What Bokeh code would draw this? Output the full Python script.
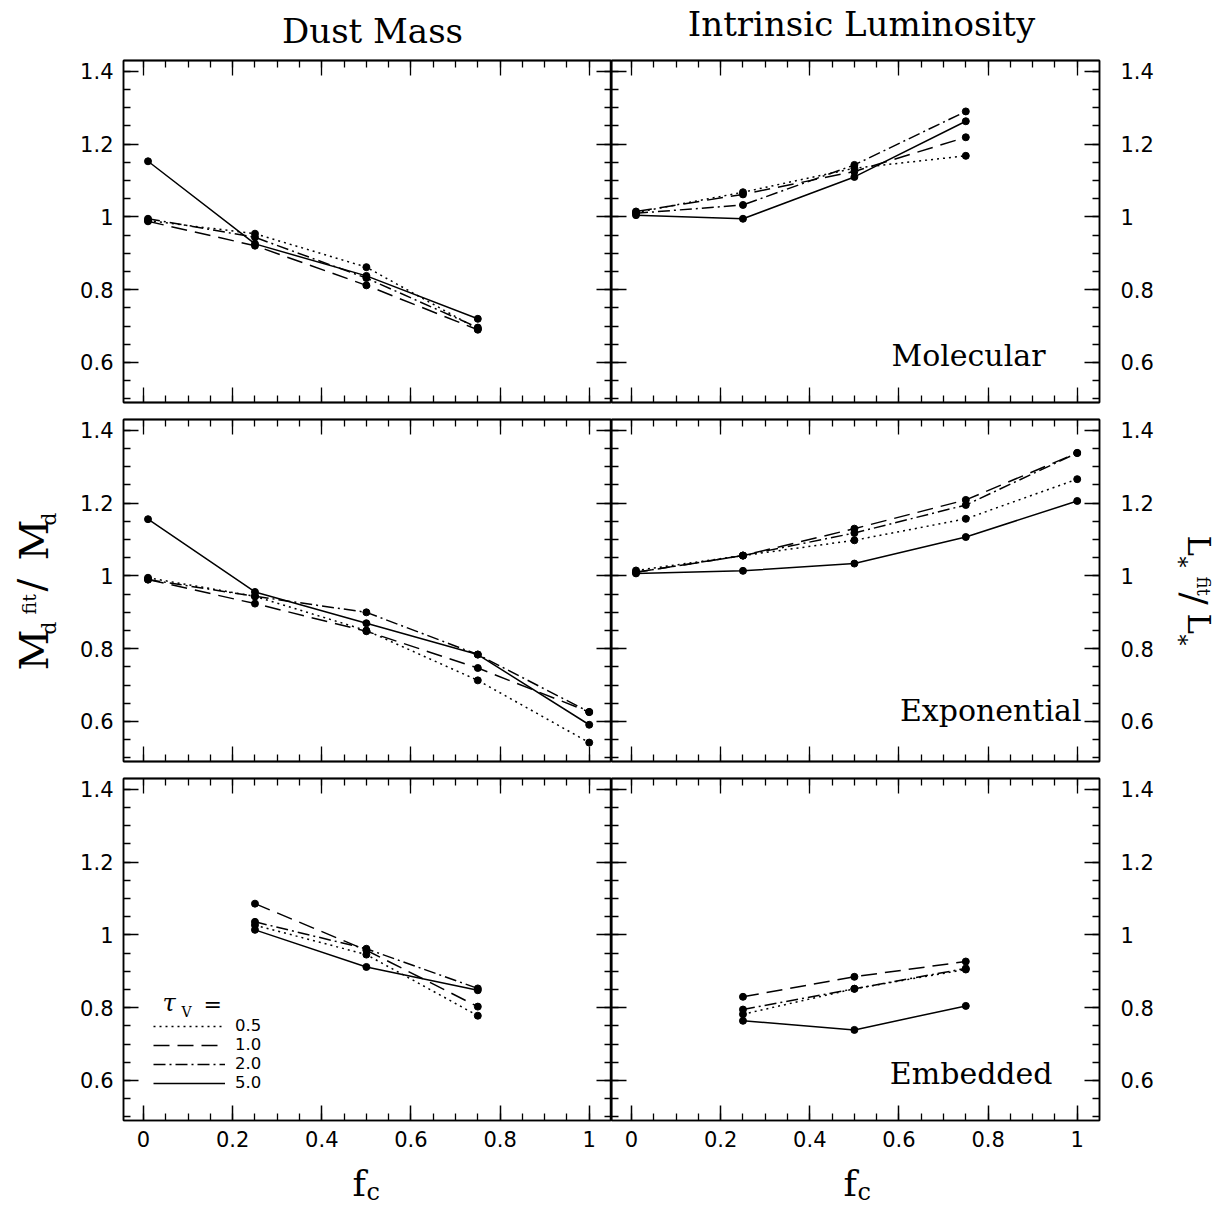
import math

from bokeh.embed import file_html
from bokeh.layouts import column, row
from bokeh.models import FixedTicker, Label, Legend, LegendItem, LinearAxis, Range1d
from bokeh.plotting import figure
from bokeh.resources import INLINE

# ---------------------------------------------------------------- data
# clump filling factor f_c sampled by each geometry
FC_MOL = [0.01, 0.25, 0.5, 0.75]
FC_EXP = [0.01, 0.25, 0.5, 0.75, 1.0]
FC_EMB = [0.25, 0.5, 0.75]

TAU_V = ["0.5", "1.0", "2.0", "5.0"]

# Molecular geometry: fitted / true dust mass and luminosity
MOL_MD_05 = [0.990, 0.954, 0.862, 0.692]
MOL_MD_10 = [0.988, 0.921, 0.812, 0.690]
MOL_MD_20 = [0.995, 0.944, 0.832, 0.696]
MOL_MD_50 = [1.153, 0.926, 0.838, 0.720]
MOL_LS_05 = [1.012, 1.068, 1.134, 1.168]
MOL_LS_10 = [1.015, 1.062, 1.125, 1.219]
MOL_LS_20 = [1.010, 1.033, 1.143, 1.290]
MOL_LS_50 = [1.005, 0.995, 1.110, 1.263]

# Exponential geometry
EXP_MD_05 = [0.995, 0.944, 0.850, 0.713, 0.542]
EXP_MD_10 = [0.990, 0.924, 0.848, 0.747, 0.626]
EXP_MD_20 = [0.990, 0.944, 0.900, 0.784, 0.626]
EXP_MD_50 = [1.156, 0.956, 0.870, 0.784, 0.591]
EXP_LS_05 = [1.015, 1.056, 1.098, 1.157, 1.266]
EXP_LS_10 = [1.010, 1.056, 1.130, 1.209, 1.338]
EXP_LS_20 = [1.010, 1.056, 1.118, 1.195, 1.338]
EXP_LS_50 = [1.007, 1.014, 1.034, 1.107, 1.206]

# Embedded geometry
EMB_MD_05 = [1.027, 0.946, 0.778]
EMB_MD_10 = [1.086, 0.958, 0.803]
EMB_MD_20 = [1.036, 0.962, 0.853]
EMB_MD_50 = [1.014, 0.912, 0.848]
EMB_LS_05 = [0.782, 0.852, 0.905]
EMB_LS_10 = [0.830, 0.885, 0.927]
EMB_LS_20 = [0.795, 0.852, 0.908]
EMB_LS_50 = [0.764, 0.739, 0.805]

GEOMETRIES = ["Molecular", "Exponential", "Embedded"]
COLUMN_TITLES = ["Dust Mass", "Intrinsic Luminosity"]

X_TICKS = [0.0, 0.2, 0.4, 0.6, 0.8, 1.0]
X_TICK_LABELS = ["0", "0.2", "0.4", "0.6", "0.8", "1"]
Y_TICKS = [0.6, 0.8, 1.0, 1.2, 1.4]
Y_TICK_LABELS = ["0.6", "0.8", "1", "1.2", "1.4"]

# ---------------------------------------------------------------- styling
DASHES = {"0.5": "2 4", "1.0": "16 8", "2.0": "12 4 2 4", "5.0": "solid"}

X_LO, X_HI = -0.045, 1.05
Y_LO, Y_HI = 0.49, 1.43
FRAME_W, FRAME_H = 488, 342

PAGE_W = 1228
TOP_H, BOTTOM_H = 52, 47          # strips holding column titles / f_c
LEFT_W, RIGHT_W = 60, 64          # strips holding the y titles
BORDERS_LR = [(63, 0), (0, 65)]   # tick-label room inside the panels
BORDERS_TB = [(8, 8), (9, 8), (9, 40)]
COL_LEFT = [123, 611]             # page x of each column's frame
ROW_TOP = [60, 419, 778]          # page y of each row's frame
GRID_H = sum(t + FRAME_H + b for t, b in BORDERS_TB)

X_MINOR = [round(0.05 * k, 2) for k in range(0, 21)]
Y_MINOR = [round(0.5 + 0.05 * k, 2) for k in range(0, 19)]

TICK_FONT = "DejaVu Sans"
SERIF = "DejaVu Serif"
MID_TO_BASE = 0.346               # em distance from a line's middle to its baseline


def style_axis(ax):
    ax.axis_line_color = "black"
    ax.axis_line_width = 1.5
    ax.major_tick_line_color = "black"
    ax.major_tick_line_width = 1.5
    ax.minor_tick_line_color = "black"
    ax.minor_tick_line_width = 1.3
    ax.major_tick_out = 0
    ax.minor_tick_out = 0
    return ax


def labelled_axis(ticks, minor, labels, standoff):
    ax = style_axis(LinearAxis(ticker=FixedTicker(ticks=ticks, minor_ticks=minor)))
    ax.major_tick_in = 15
    ax.minor_tick_in = 7
    ax.major_label_overrides = {t: lab for t, lab in zip(ticks, labels)}
    ax.major_label_text_font = TICK_FONT
    ax.major_label_text_font_size = "21px"
    ax.major_label_text_color = "black"
    ax.major_label_standoff = standoff
    return ax


def bare_axes(ticks, minor):
    # mirrored frame side: long and short inward ticks, no numbers
    long_ax = style_axis(LinearAxis(ticker=FixedTicker(ticks=[], minor_ticks=ticks)))
    long_ax.minor_tick_in = 15
    long_ax.major_label_standoff = 0
    short_ax = style_axis(LinearAxis(ticker=FixedTicker(ticks=[], minor_ticks=minor)))
    short_ax.minor_tick_in = 7
    short_ax.major_label_standoff = 0
    return [long_ax, short_ax]


def add_side(p, side, ticks, minor, labels, show, standoff):
    if show:
        p.add_layout(labelled_axis(ticks, minor, labels, standoff), side)
    else:
        for ax in bare_axes(ticks, minor):
            p.add_layout(ax, side)


def put_label(p, to_data, px, py, s, size, font=SERIF, align="left", angle=0.0,
              style="normal"):
    """Place text whose baseline starts at page pixel (px, py)."""
    shift = MID_TO_BASE * size
    cx = px - shift * math.sin(angle)
    cy = py - shift * math.cos(angle)
    x, y = to_data(cx, cy)
    p.add_layout(Label(x=x, y=y, text=s, text_font=font, text_font_size=f"{size}px",
                       text_align=align, text_baseline="middle", angle=angle,
                       text_font_style=style, text_color="black"))


def panel_coords(col, r):
    def conv(px, py):
        x = X_LO + (px - COL_LEFT[col]) * (X_HI - X_LO) / FRAME_W
        y = Y_HI - (py - ROW_TOP[r]) * (Y_HI - Y_LO) / FRAME_H
        return x, y
    return conv


def strip_coords(x0, y0):
    def conv(px, py):
        return px - x0, py - y0
    return conv


def make_panel(col, r, fc, series):
    top, bottom = BORDERS_TB[r]
    left, right = BORDERS_LR[col]
    p = figure(frame_width=FRAME_W, frame_height=FRAME_H,
               x_range=Range1d(X_LO, X_HI), y_range=Range1d(Y_LO, Y_HI),
               x_axis_location=None, y_axis_location=None,
               output_backend="svg", toolbar_location=None,
               min_border=0, min_border_left=left, min_border_right=right,
               min_border_top=top, min_border_bottom=bottom)
    p.grid.grid_line_color = None
    p.outline_line_color = "black"
    p.outline_line_width = 1.5
    p.background_fill_color = "white"
    p.border_fill_color = "white"

    add_side(p, "below", X_TICKS, X_MINOR, X_TICK_LABELS, r == 2, 10)
    add_side(p, "above", X_TICKS, X_MINOR, X_TICK_LABELS, False, 0)
    add_side(p, "left", Y_TICKS, Y_MINOR, Y_TICK_LABELS, col == 0, 10)
    add_side(p, "right", Y_TICKS, Y_MINOR, Y_TICK_LABELS, col == 1, 21)

    lines = {}
    for tau, ys in zip(TAU_V, series):
        lines[tau] = p.line(fc, ys, line_color="black", line_width=1.5,
                            line_dash=DASHES[tau])
        p.scatter(fc, ys, marker="circle", size=7, fill_color="black",
                  line_color="black")
    return p, lines


def make_strip(w, h):
    # blank canvas whose data units are pixels, y growing downwards
    s = figure(frame_width=w, frame_height=h,
               x_range=Range1d(0, w), y_range=Range1d(h, 0),
               x_axis_location=None, y_axis_location=None,
               output_backend="svg", toolbar_location=None, min_border=0)
    s.grid.grid_line_color = None
    s.outline_line_color = None
    s.background_fill_color = "white"
    s.border_fill_color = "white"
    return s


mass_sets = [
    (FC_MOL, [MOL_MD_05, MOL_MD_10, MOL_MD_20, MOL_MD_50]),
    (FC_EXP, [EXP_MD_05, EXP_MD_10, EXP_MD_20, EXP_MD_50]),
    (FC_EMB, [EMB_MD_05, EMB_MD_10, EMB_MD_20, EMB_MD_50]),
]
lum_sets = [
    (FC_MOL, [MOL_LS_05, MOL_LS_10, MOL_LS_20, MOL_LS_50]),
    (FC_EXP, [EXP_LS_05, EXP_LS_10, EXP_LS_20, EXP_LS_50]),
    (FC_EMB, [EMB_LS_05, EMB_LS_10, EMB_LS_20, EMB_LS_50]),
]

panels = []
legend_lines = None
for r in range(3):
    pm, lines_m = make_panel(0, r, *mass_sets[r])
    pl, _ = make_panel(1, r, *lum_sets[r])
    panels.append((pm, pl))
    if r == 2:
        legend_lines = lines_m

# geometry name in the lower right of each luminosity panel
for r, (px, py) in enumerate([(1045, 365), (1081, 720), (1052, 1083)]):
    put_label(panels[r][1], panel_coords(1, r), px, py, GEOMETRIES[r], 30, align="right")

# optical depth key in the embedded dust-mass panel
pk = panels[2][0]
kc = panel_coords(0, 2)
put_label(pk, kc, 162, 1011, "τ", 24, style="italic")
put_label(pk, kc, 181, 1016, "V", 14)
put_label(pk, kc, 203, 1012, "=", 22, font=TICK_FONT)
legend = Legend(
    items=[LegendItem(label=t, renderers=[legend_lines[t]]) for t in TAU_V],
    location=(30, 28), orientation="vertical",
    glyph_width=72, glyph_height=16, label_height=16, label_width=30,
    spacing=0, padding=0, margin=0, label_standoff=10,
    border_line_color=None, background_fill_alpha=0,
    label_text_font=TICK_FONT, label_text_font_size="16.5px",
    label_text_color="black",
)
pk.add_layout(legend)

# column titles
top = make_strip(PAGE_W, TOP_H)
tc = strip_coords(0, 0)
put_label(top, tc, 372, 42, COLUMN_TITLES[0], 34, align="center")
put_label(top, tc, 861, 35, COLUMN_TITLES[1], 34, align="center")

# f_c under each column
bottom = make_strip(PAGE_W, BOTTOM_H)
bc = strip_coords(0, TOP_H + GRID_H)
for fx in (352, 843):
    put_label(bottom, bc, fx, 1195, "f", 36)
    put_label(bottom, bc, fx + 14, 1200, "c", 24)

# left title: M_d^fit / M_d, reading upwards
left = make_strip(LEFT_W, GRID_H)
lc = strip_coords(0, TOP_H)
up = math.pi / 2
for px, py, s, size in [(47, 670, "M", 40), (55, 634, "d", 20), (35, 614, "fit", 19),
                        (44, 591, "/", 38), (47, 560, "M", 40), (55, 525, "d", 20)]:
    put_label(left, lc, px, py, s, size, angle=up)

# right title: L_*^fit / L_*, reading downwards
right = make_strip(RIGHT_W, GRID_H)
rc = strip_coords(PAGE_W - RIGHT_W, TOP_H)
down = -math.pi / 2
for px, py, s, size in [(1188, 535, "L", 31), (1170, 556, "*", 22), (1197, 576, "fit", 18),
                        (1182, 592, "/", 36), (1188, 613, "L", 31), (1170, 634, "*", 22)]:
    put_label(right, rc, px, py, s, size, angle=down)

grid = column(row(*panels[0]), row(*panels[1]), row(*panels[2]), spacing=0)
layout = column(top, row(left, grid, right, spacing=0), bottom, spacing=0)

with open("out.html", "w") as fh:
    fh.write(file_html(layout, INLINE))
